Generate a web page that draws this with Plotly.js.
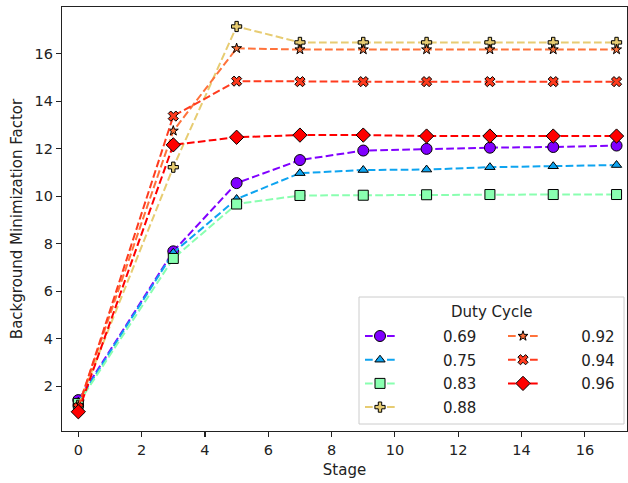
<!DOCTYPE html>
<html>
<head>
<meta charset="utf-8">
<script src="https://cdn.plot.ly/plotly-3.0.1.min.js"></script>
<style>
  html, body { margin: 0; padding: 0; background: #fff; }
  #chart { width: 628px; height: 483px; }
</style>
</head>
<body>
<div id="chart"></div>
<script>
// Stage index on the x axis
const stages = [0, 3, 5, 7, 9, 11, 13, 15, 17];

// Background minimization factor per duty cycle
const dc069 = [1.42, 7.68, 10.55, 11.52, 11.92, 11.99, 12.04, 12.07, 12.13];
const dc075 = [1.35, 7.62, 9.88, 10.97, 11.10, 11.12, 11.22, 11.26, 11.31];
const dc083 = [1.28, 7.38, 9.67, 10.03, 10.04, 10.06, 10.07, 10.07, 10.07];
const dc088 = [1.20, 11.22, 17.14, 16.47, 16.47, 16.47, 16.47, 16.47, 16.47];
const dc092 = [1.15, 12.75, 16.22, 16.17, 16.17, 16.17, 16.17, 16.17, 16.17];
const dc094 = [1.10, 13.37, 14.84, 14.82, 14.82, 14.82, 14.82, 14.82, 14.82];
const dc096 = [0.93, 12.16, 12.48, 12.57, 12.57, 12.53, 12.53, 12.53, 12.53];

const dutyLabels = ["0.69", "0.75", "0.83", "0.88", "0.92", "0.94", "0.96"];
const seriesValues = [dc069, dc075, dc083, dc088, dc092, dc094, dc096];

// rainbow colormap sampled at the normalized duty cycle
const colors = ["#8000ff", "#0ea4f0", "#89ffb0", "#e7cc72", "#ff723b", "#ff3b1e", "#ff0000"];
const symbols = ["circle", "triangle-up", "square", "cross", "star", "x", "diamond"];
const sizes = [11, 9, 10, 8.5, 7.5, 9, 11];
// first four entries go in the left legend column, the rest in the right one
const legendIds = ["legend", "legend", "legend", "legend", "legend2", "legend2", "legend2"];
const pad1 = "\u00a0".repeat(9);
const pad2 = "\u00a0".repeat(8);

const FONT = "DejaVu Sans, Liberation Sans, sans-serif";

const traces = seriesValues.map((vals, i) => ({
  type: "scatter",
  mode: "lines+markers",
  x: stages,
  y: vals,
  name: (i < 4 ? pad1 : pad2) + dutyLabels[i],
  legend: legendIds[i],
  legendgroup: "g" + i,
  line: { color: colors[i], width: 2, dash: "7.7px,3.3px" },
  marker: {
    symbol: symbols[i],
    size: sizes[i],
    color: colors[i],
    line: { color: "#000", width: 1 }
  }
}));

// plot area geometry in pixels (used to place the legend panel)
const W = 628, H = 483;
const mL = 62, mR = 1, mT = 7, mB = 52;
const pw = W - mL - mR, ph = H - mT - mB;
const px = v => (v - mL) / pw;
const py = v => (H - mB - v) / ph;

const legendCommon = {
  orientation: "v",
  xanchor: "left",
  yanchor: "top",
  bgcolor: "rgba(0,0,0,0)",
  borderwidth: 0,
  tracegroupgap: 1.2,
  font: { family: FONT, size: 15, color: "#222" }
};

const layout = {
  width: W,
  height: H,
  margin: { l: mL, r: mR, t: mT, b: mB },
  paper_bgcolor: "#fff",
  plot_bgcolor: "#fff",
  font: { family: FONT, size: 14.5, color: "#222" },
  xaxis: {
    range: [-0.515, 17.33],
    dtick: 2,
    tick0: 0,
    showgrid: false,
    zeroline: false,
    showline: true,
    mirror: true,
    linecolor: "#222",
    linewidth: 1.2,
    ticks: "outside",
    ticklen: 5,
    tickwidth: 1.1,
    tickcolor: "#222",
    tickfont: { family: FONT, size: 14.5, color: "#222" },
    title: { text: "Stage", font: { family: FONT, size: 15, color: "#222" }, standoff: 8 }
  },
  yaxis: {
    range: [0.12, 17.96],
    dtick: 2,
    tick0: 0,
    showgrid: false,
    zeroline: false,
    showline: true,
    mirror: true,
    linecolor: "#222",
    linewidth: 1.2,
    ticks: "outside",
    ticklen: 5,
    tickwidth: 1.1,
    tickcolor: "#222",
    tickfont: { family: FONT, size: 14.5, color: "#222" },
    title: { text: "Background Minimization Factor", font: { family: FONT, size: 15, color: "#222" }, standoff: 8 }
  },
  legend: Object.assign({}, legendCommon, { x: px(360), y: py(319.75) }),
  legend2: Object.assign({}, legendCommon, { x: px(503), y: py(319.75) }),
  shapes: [{
    type: "rect",
    xref: "paper", yref: "paper",
    x0: px(359), x1: px(624), y0: py(424), y1: py(297),
    fillcolor: "rgba(255,255,255,0.85)",
    line: { color: "#cccccc", width: 1 },
    layer: "above"
  }],
  annotations: [{
    xref: "paper", yref: "paper",
    x: px(491.5), y: py(312),
    xanchor: "center", yanchor: "middle",
    text: "Duty Cycle",
    showarrow: false,
    font: { family: FONT, size: 15, color: "#222" }
  }]
};

Plotly.newPlot("chart", traces, layout, { displayModeBar: false, staticPlot: true });
</script>
</body>
</html>
